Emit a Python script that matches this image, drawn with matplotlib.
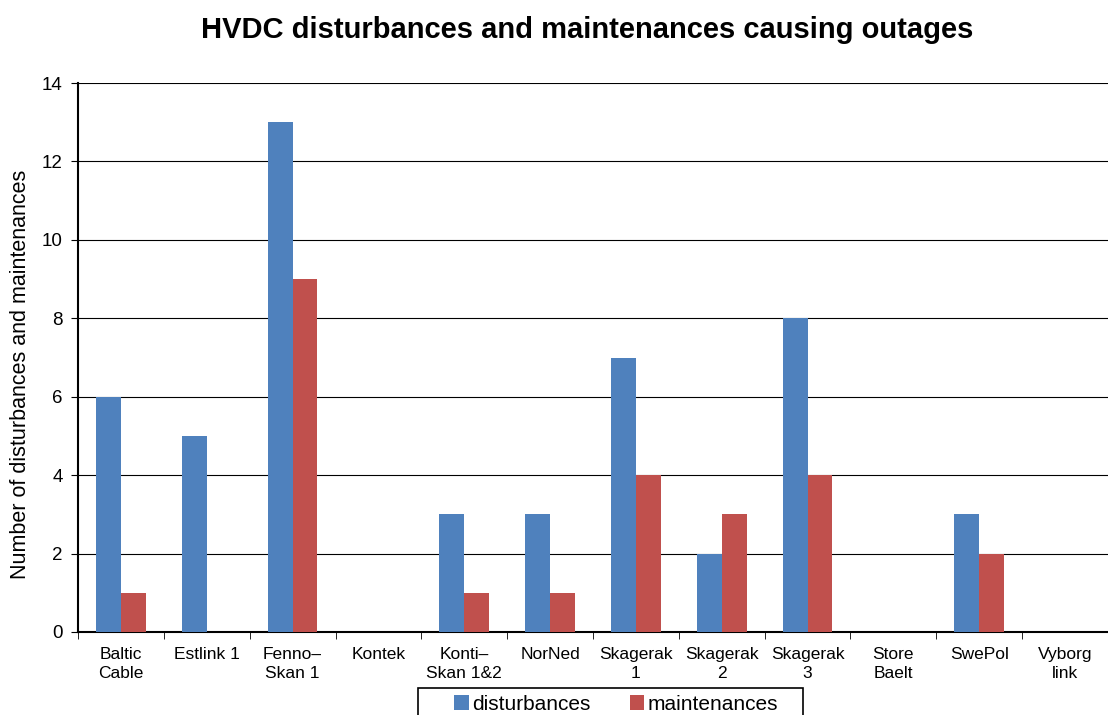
import matplotlib
matplotlib.use('Agg')
import matplotlib.pyplot as plt
from matplotlib.patches import Rectangle
import numpy as np

plt.rcParams['font.family'] = ['Liberation Sans', 'DejaVu Sans']

# data
links = ['Baltic\nCable', 'Estlink 1', 'Fenno–\nSkan 1', 'Kontek', 'Konti–\nSkan 1&2',
         'NorNed', 'Skagerak\n1', 'Skagerak\n2', 'Skagerak\n3', 'Store\nBaelt',
         'SwePol', 'Vyborg\nlink']
disturbances = [6, 5, 13, 0, 3, 3, 7, 2, 8, 0, 3, 0]
maintenances = [1, 0, 9, 0, 1, 1, 4, 3, 4, 0, 2, 0]

W, H = 1108, 715
fig = plt.figure(figsize=(W / 100, H / 100), dpi=100)
ax = fig.add_axes([78 / W, 1 - 632 / H, 1 - 78 / W, (632 - 83) / H])

x = np.arange(len(links))
w = 0.29
ax.bar(x - w/2, disturbances, w, color='#4F81BD', label='disturbances', zorder=3)
ax.bar(x + w/2, maintenances, w, color='#C0504D', label='maintenances', zorder=3)

ax.set_xlim(-0.5, len(links) - 0.5)
ax.set_ylim(0, 14)
ax.set_yticks(range(0, 15, 2))
ax.yaxis.grid(True, color='black', linewidth=0.8, zorder=0)
ax.tick_params(axis='y', labelsize=13.5, length=5, pad=6, direction='out')

ax.set_xticks(x)
ax.set_xticklabels(links, fontsize=12.5, linespacing=1.35)
ax.set_xticks(np.arange(-0.5, len(links)), minor=True)
ax.tick_params(axis='x', which='major', length=0, pad=11)
ax.tick_params(axis='x', which='minor', length=5, direction='out')

for s in ['top', 'right']:
    ax.spines[s].set_visible(False)
ax.spines['left'].set_linewidth(1.5)
ax.spines['bottom'].set_linewidth(1.5)

ax.set_ylabel('Number of disturbances and maintenances', fontsize=15.5)
ax.yaxis.set_label_coords(-47 / (W - 78), 0.47)
fig.text(587 / W, 1 - 30 / H, 'HVDC disturbances and maintenances causing outages',
         fontsize=21, fontweight='bold', ha='center', va='center')

# legend sits at the bottom edge, partly cut off like the reference
leg = fig.legend(loc='center left', bbox_to_anchor=(454 / W, 1 - 704 / H), ncol=2,
                 fontsize=15, frameon=False, borderpad=0, borderaxespad=0,
                 handlelength=0.7, handleheight=0.7, handletextpad=0.15,
                 columnspacing=1.9)
fig.patches.append(Rectangle((418 / W, -0.02), (803 - 418) / W, 0.02 + 1 - 688 / H,
                             transform=fig.transFigure, fill=False,
                             edgecolor='black', linewidth=1.2))

fig.savefig('out.png', dpi=100)
